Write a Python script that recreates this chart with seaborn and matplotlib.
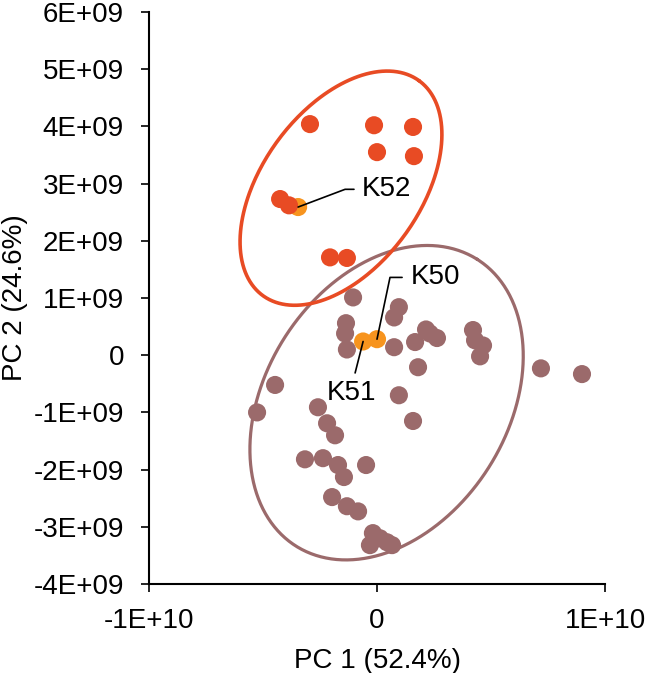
#PCA score plot with group ellipses

import numpy as np
import pandas as pd
import matplotlib
matplotlib.use('Agg')
import matplotlib.pyplot as plt
import seaborn as sns

# PC scores (units of 1E+09)
red_pc1 = [-2.94, -0.13, 1.58, 0.0, 1.62, -4.25, -3.86, -2.06, -1.32]
red_pc2 = [4.04, 4.02, 3.99, 3.55, 3.48, 2.73, 2.62, 1.71, 1.70]

brown_pc1 = [-1.05, 0.96, 0.75, -1.36, -1.40, -1.32, 0.75, 1.67, 2.15, 2.32, 2.63,
             4.21, 4.30, 4.65, 4.52, 1.80, -4.47, -5.26, 0.96, 1.58, -2.59, -2.19,
             -1.84, -3.16, -2.37, -1.71, -1.45, -0.48, -1.97, -1.32, -0.83, -0.18,
             -0.31, 0.13, 0.44, 0.66, 7.19, 8.99]
brown_pc2 = [1.01, 0.84, 0.66, 0.56, 0.38, 0.10, 0.14, 0.23, 0.45, 0.38, 0.30,
             0.44, 0.26, 0.17, -0.02, -0.21, -0.52, -1.00, -0.70, -1.15, -0.91, -1.19,
             -1.40, -1.82, -1.80, -1.92, -2.13, -1.92, -2.48, -2.64, -2.73, -3.11,
             -3.32, -3.20, -3.27, -3.32, -0.23, -0.33]

marked_names = ['K50', 'K51', 'K52']
marked_pc1 = [0.0, -0.61, -3.46]
marked_pc2 = [0.28, 0.24, 2.59]

x_ticks = [-1e10, 0, 1e10]
x_tick_labels = ['-1E+10', '0', '1E+10']
y_ticks = [-4e9, -3e9, -2e9, -1e9, 0, 1e9, 2e9, 3e9, 4e9, 5e9, 6e9]
y_tick_labels = ['-4E+09', '-3E+09', '-2E+09', '-1E+09', '0', '1E+09', '2E+09',
                 '3E+09', '4E+09', '5E+09', '6E+09']

RED = '#E84B24'
BROWN = '#9B6A6B'
ORANGE = '#F7941E'
FS = 20


def ellipse_xy(cx, cy, u, v, n=300):
    t = np.linspace(0, 2 * np.pi, n)
    x = cx + u[0] * np.cos(t) + v[0] * np.sin(t)
    y = cy + u[1] * np.cos(t) + v[1] * np.sin(t)
    return x * 1e9, y * 1e9


def main():
    sns.set_style('ticks')
    plt.rcParams['font.family'] = ['Liberation Sans', 'DejaVu Sans']
    plt.rcParams['text.color'] = 'black'
    plt.rcParams['axes.labelcolor'] = 'black'

    df = pd.concat([
        pd.DataFrame({'pc1': brown_pc1, 'pc2': brown_pc2, 'group': 'brown'}),
        pd.DataFrame({'pc1': marked_pc1, 'pc2': marked_pc2, 'group': 'marked'}),
        pd.DataFrame({'pc1': red_pc1, 'pc2': red_pc2, 'group': 'red'}),
    ], ignore_index=True)
    df['pc1'] = df['pc1'] * 1e9
    df['pc2'] = df['pc2'] * 1e9

    fig = plt.figure(figsize=(6.45, 6.73), dpi=100)
    ax = fig.add_axes([0.231, 0.1322, 0.707, 0.850])

    # ellipses below the points
    ex, ey = ellipse_xy(0.42, -0.83, (3.96, 2.51), (-4.50, 1.12))
    ax.plot(ex, ey, color=BROWN, lw=2.3, zorder=1)
    ex, ey = ellipse_xy(-1.58, 2.92, (3.42, 1.88), (-2.81, 0.81))
    ax.plot(ex, ey, color=RED, lw=2.6, zorder=1)

    sns.scatterplot(data=df, x='pc1', y='pc2', hue='group',
                    palette={'brown': BROWN, 'marked': ORANGE, 'red': RED},
                    s=170, linewidth=0, alpha=1, legend=False, ax=ax, zorder=3)

    # leader lines and labels
    lc = 'black'
    ax.plot([marked_pc1[2] * 1e9, -1.40e9, -1.01e9], [marked_pc2[2] * 1e9, 2.90e9, 2.90e9],
            color=lc, lw=1.2, zorder=4)
    ax.text(-0.66e9, 2.90e9, marked_names[2], fontsize=FS, ha='left', va='center')
    ax.plot([marked_pc1[0] * 1e9, 0.57e9, 1.10e9], [marked_pc2[0] * 1e9, 1.36e9, 1.36e9],
            color=lc, lw=1.2, zorder=4)
    ax.text(1.49e9, 1.36e9, marked_names[0], fontsize=FS, ha='left', va='center')
    ax.plot([marked_pc1[1] * 1e9, -0.96e9], [marked_pc2[1] * 1e9, -0.31e9],
            color=lc, lw=1.2, zorder=4)
    ax.text(-1.10e9, -0.66e9, marked_names[1], fontsize=FS, ha='center', va='center')

    ax.set_xlim(-1e10, 1e10)
    ax.set_ylim(-4e9, 6e9)
    ax.set_xticks(x_ticks)
    ax.set_xticklabels(x_tick_labels)
    ax.set_yticks(y_ticks)
    ax.set_yticklabels(y_tick_labels)
    ax.tick_params(axis='both', direction='out', length=6, width=1.2,
                   labelsize=FS, colors='black')
    ax.tick_params(axis='x', pad=11)
    ax.tick_params(axis='y', pad=12)
    for side in ['left', 'bottom']:
        ax.spines[side].set_linewidth(1.5)
        ax.spines[side].set_color('black')
    sns.despine(ax=ax)
    ax.set_xlabel('PC 1 (52.4%)', fontsize=FS, labelpad=10)
    ax.set_ylabel('PC 2 (24.6%)', fontsize=FS, labelpad=4)

    fig.savefig('out.png', dpi=100)
    plt.close(fig)


if __name__ == '__main__':
    main()
